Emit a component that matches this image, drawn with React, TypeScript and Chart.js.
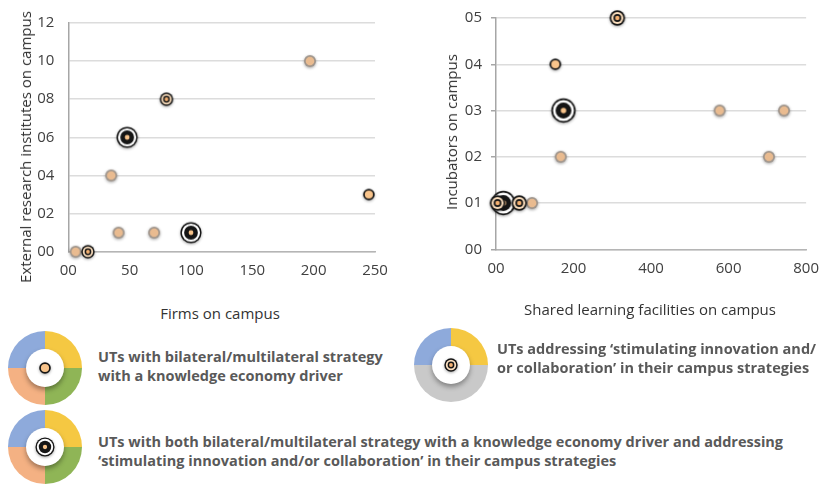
import React, { useEffect, useRef } from "react";
import { Chart, registerables } from "chart.js";
Chart.register(...registerables);

// ---------- Data (left chart: Firms vs External research institutes) ----------
const leftPlainX = [6, 35, 41, 70, 197];
const leftPlainY = [0, 4, 1, 1, 10];
const leftDriverX = [245];
const leftDriverY = [3];
const leftInnovX = [16, 80];
const leftInnovY = [0, 8];
const leftBothX = [48, 100];
const leftBothY = [6, 1];
const leftXTicks = [0, 50, 100, 150, 200, 250];
const leftYTicks = [0, 2, 4, 6, 8, 10, 12];

// ---------- Data (right chart: Shared learning facilities vs Incubators) ----------
const rightPlainX = [93, 167, 577, 704, 743];
const rightPlainY = [1, 2, 3, 2, 3];
const rightDriverX = [153];
const rightDriverY = [4];
const rightInnovX = [4, 60, 313];
const rightInnovY = [1, 1, 5];
const rightBothX = [19, 174];
const rightBothY = [1, 3];
const rightXTicks = [0, 200, 400, 600, 800];
const rightYTicks = [0, 1, 2, 3, 4, 5];

const leftXTitle = "Firms on campus";
const leftYTitle = "External research institutes on campus";
const rightXTitle = "Shared learning facilities on campus";
const rightYTitle = "Incubators on campus";

const legend1 = ["UTs with bilateral/multilateral strategy", "with a knowledge economy driver"];
const legend2 = ["UTs addressing \u2018stimulating innovation and/", "or collaboration\u2019 in their campus strategies"];
const legend3 = [
  "UTs with both bilateral/multilateral strategy with a knowledge economy driver and addressing",
  "\u2018stimulating innovation and/or collaboration\u2019 in their campus strategies",
];

const FONT = "'Open Sans', 'Noto Sans', sans-serif";
const PEACH = "#f9c48b";

type Kind = "plain" | "driver" | "innov" | "both";

function paintMarker(ctx: CanvasRenderingContext2D, kind: Kind, s: number, cx: number, cy: number) {
  const circle = (r: number, fill: string) => {
    ctx.beginPath();
    ctx.arc(cx, cy, r, 0, Math.PI * 2);
    ctx.fillStyle = fill;
    ctx.fill();
  };
  ctx.save();
  ctx.shadowColor = "rgba(0,0,0,0.35)";
  ctx.shadowBlur = 3;
  ctx.shadowOffsetY = 1;
  if (kind === "plain") {
    ctx.filter = "blur(0.6px)";
    circle(6.0 * s, "#9f958c");
    ctx.restore();
    ctx.save();
    ctx.filter = "blur(0.5px)";
    circle(4.3 * s, "#e9bb90");
    ctx.restore();
    return;
  }
  if (kind === "driver") {
    circle(5.8 * s, "#151515");
    ctx.restore();
    circle(4.1 * s, PEACH);
    return;
  }
  if (kind === "innov") {
    circle(6.7 * s, "#151515");
    ctx.restore();
    circle(5.2 * s, "#fde0bf");
    circle(3.4 * s, "#151515");
    circle(1.9 * s, "#f6b272");
    return;
  }
  // both
  circle(10.6 * s, "#151515");
  ctx.restore();
  circle(9.1 * s, "#ffffff");
  circle(6.9 * s, "#151515");
  circle(2.4 * s, PEACH);
}

function makeMarker(kind: Kind, s: number): HTMLCanvasElement {
  const size = Math.ceil((30 * s) / 2) * 2;
  const c = document.createElement("canvas");
  c.width = size;
  c.height = size;
  const ctx = c.getContext("2d")!;
  paintMarker(ctx, kind, s, size / 2, size / 2);
  return c;
}

const pad2 = (v: number | string) => String(v).padStart(2, "0");

function toPoints(xs: number[], ys: number[]) {
  return xs.map((x, i) => ({ x, y: ys[i] }));
}

type ChartProps = {
  left: number;
  width: number;
  height: number;
  series: { kind: Kind; xs: number[]; ys: number[] }[];
  xTicks: number[];
  yTicks: number[];
  yWidth: number;
  xHeight: number;
  padTop: number;
  padRight: number;
  yTickLen: number;
  innovScale: number;
  bothScale: number;
};

function ScatterChart(p: ChartProps) {
  const ref = useRef<HTMLCanvasElement | null>(null);
  useEffect(() => {
    if (!ref.current) return;
    const scales: Record<Kind, number> = { plain: 1, driver: 1, innov: p.innovScale, both: p.bothScale };
    const datasets = p.series.map((s) => ({
      data: toPoints(s.xs, s.ys),
      pointStyle: makeMarker(s.kind, scales[s.kind]) as any,
      pointRadius: 6,
      clip: false as any,
      showLine: false,
    }));
    const xT = p.xTicks;
    const yT = p.yTicks;
    const chart = new Chart(ref.current, {
      type: "scatter",
      data: { datasets },
      options: {
        responsive: false,
        animation: false,
        devicePixelRatio: 1,
        events: [],
        layout: { padding: { top: p.padTop, right: p.padRight, left: 0, bottom: 0 } },
        plugins: { legend: { display: false }, tooltip: { enabled: false } },
        scales: {
          x: {
            type: "linear",
            min: xT[0],
            max: xT[xT.length - 1],
            afterBuildTicks: (scale: any) => {
              scale.ticks = xT.map((v) => ({ value: v }));
            },
            ticks: {
              callback: (v: any) => pad2(v),
              color: "#404040",
              font: { family: FONT, size: 15 },
              padding: 10,
              maxRotation: 0,
              autoSkip: false,
            },
            grid: { display: false, drawTicks: false },
            border: { display: true, color: "#b5b5b5", width: 1.5 },
            afterFit: (scale: any) => {
              scale.height = p.xHeight;
            },
          },
          y: {
            type: "linear",
            min: yT[0],
            max: yT[yT.length - 1],
            afterBuildTicks: (scale: any) => {
              scale.ticks = yT.map((v) => ({ value: v }));
            },
            ticks: {
              callback: (v: any) => pad2(v),
              color: "#404040",
              font: { family: FONT, size: 15 },
              padding: p.yTickLen > 0 ? 9 : 14,
              autoSkip: false,
            },
            grid: {
              color: "#dcdcdc",
              lineWidth: 1.5,
              drawTicks: p.yTickLen > 0,
              tickLength: p.yTickLen,
              tickColor: "#a6a6a6",
            },
            border: { display: true, color: "#a6a6a6", width: 1.5 },
            afterFit: (scale: any) => {
              scale.width = p.yWidth;
            },
          },
        },
      },
    } as any);
    return () => chart.destroy();
  }, []);
  return (
    <canvas
      ref={ref}
      width={p.width}
      height={p.height}
      style={{ position: "absolute", left: p.left, top: 0, width: p.width, height: p.height }}
    />
  );
}

function MarkerIcon({ kind, s }: { kind: Kind; s: number }) {
  const ref = useRef<HTMLCanvasElement | null>(null);
  const size = 30;
  useEffect(() => {
    const ctx = ref.current?.getContext("2d");
    if (!ctx) return;
    ctx.clearRect(0, 0, size, size);
    paintMarker(ctx, kind, s, size / 2, size / 2);
  }, []);
  return (
    <canvas
      ref={ref}
      width={size}
      height={size}
      style={{ position: "absolute", left: 37 - size / 2, top: 37 - size / 2, width: size, height: size }}
    />
  );
}

function Donut({ cx, cy, gradient, kind, s }: { cx: number; cy: number; gradient: string; kind: Kind; s: number }) {
  return (
    <div style={{ position: "absolute", left: cx - 37, top: cy - 37, width: 74, height: 74 }}>
      <div style={{ position: "absolute", inset: 0, borderRadius: "50%", background: gradient }} />
      <div
        style={{
          position: "absolute",
          left: 18,
          top: 18,
          width: 38,
          height: 38,
          borderRadius: "50%",
          background: "#fff",
          boxShadow: "0 3px 5px rgba(0,0,0,0.35)",
        }}
      />
      <MarkerIcon kind={kind} s={s} />
    </div>
  );
}

const BLUE = "#8eaadb";
const YELLOW = "#f5c842";
const GREEN = "#8fb556";
const ORANGE = "#f4b183";
const GREY = "#c9c9c9";
const fourQ = `conic-gradient(${YELLOW} 0 25%, ${GREEN} 25% 50%, ${ORANGE} 50% 75%, ${BLUE} 75% 100%)`;
const threeQ = `conic-gradient(${YELLOW} 0 25%, ${GREY} 25% 75%, ${BLUE} 75% 100%)`;

const legendText: React.CSSProperties = {
  position: "absolute",
  fontFamily: FONT,
  fontWeight: 700,
  fontSize: 14.5,
  lineHeight: "19px",
  color: "#595959",
  whiteSpace: "nowrap",
};

const titleStyle: React.CSSProperties = {
  position: "absolute",
  fontFamily: FONT,
  fontSize: 15,
  lineHeight: "20px",
  color: "#333333",
  whiteSpace: "nowrap",
};

export default function App() {
  return (
    <div
      style={{
        position: "absolute",
        left: 0,
        top: 0,
        width: 829,
        height: 484,
        background: "#ffffff",
        overflow: "hidden",
      }}
    >
      <ScatterChart
        left={0}
        width={400}
        height={300}
        series={[
          { kind: "innov", xs: leftInnovX, ys: leftInnovY },
          { kind: "driver", xs: leftDriverX, ys: leftDriverY },
          { kind: "both", xs: leftBothX, ys: leftBothY },
          { kind: "plain", xs: leftPlainX, ys: leftPlainY },
        ]}
        xTicks={leftXTicks}
        yTicks={leftYTicks}
        yWidth={68.3}
        xHeight={48.3}
        padTop={13.3}
        padRight={25}
        yTickLen={0}
        innovScale={1}
        bothScale={1}
      />
      <ScatterChart
        left={410}
        width={419}
        height={300}
        series={[
          { kind: "innov", xs: rightInnovX, ys: rightInnovY },
          { kind: "driver", xs: rightDriverX, ys: rightDriverY },
          { kind: "both", xs: rightBothX, ys: rightBothY },
          { kind: "plain", xs: rightPlainX, ys: rightPlainY },
        ]}
        xTicks={rightXTicks}
        yTicks={rightYTicks}
        yWidth={86}
        xHeight={50.7}
        padTop={12.3}
        padRight={21.5}
        yTickLen={5}
        innovScale={1.15}
        bothScale={1.15}
      />

      <div style={{ ...titleStyle, left: 25, top: 147, transform: "translate(-50%, -50%) rotate(-90deg)" }}>
        {leftYTitle}
      </div>
      <div style={{ ...titleStyle, left: 220, top: 313, transform: "translate(-50%, -50%)" }}>{leftXTitle}</div>
      <div style={{ ...titleStyle, left: 451, top: 132, transform: "translate(-50%, -50%) rotate(-90deg)" }}>
        {rightYTitle}
      </div>
      <div style={{ ...titleStyle, left: 650, top: 309, transform: "translate(-50%, -50%)" }}>{rightXTitle}</div>

      <Donut cx={45} cy={368} gradient={fourQ} kind="driver" s={1} />
      <Donut cx={451} cy={365} gradient={threeQ} kind="innov" s={1} />
      <Donut cx={45} cy={447} gradient={fourQ} kind="both" s={0.9} />

      <div style={{ ...legendText, left: 98, top: 347 }}>
        {legend1[0]}
        <br />
        {legend1[1]}
      </div>
      <div style={{ ...legendText, left: 497, top: 339 }}>
        {legend2[0]}
        <br />
        {legend2[1]}
      </div>
      <div style={{ ...legendText, left: 98, top: 432 }}>
        {legend3[0]}
        <br />
        {legend3[1]}
      </div>
    </div>
  );
}
